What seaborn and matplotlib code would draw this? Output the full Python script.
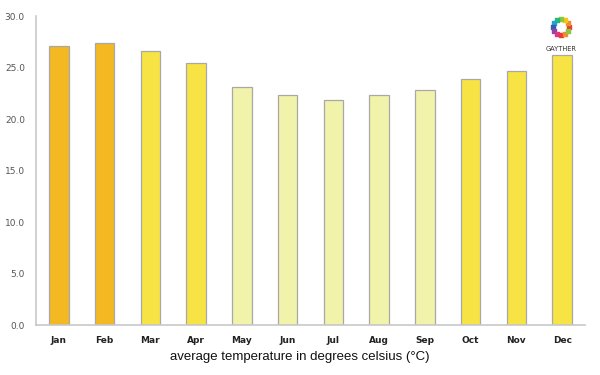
import matplotlib
matplotlib.use("Agg")
import matplotlib.pyplot as plt
import seaborn as sns
import pandas as pd
import numpy as np

months = ["Jan", "Feb", "Mar", "Apr", "May", "Jun", "Jul", "Aug", "Sep", "Oct", "Nov", "Dec"]
temps = [27.1, 27.4, 26.6, 25.4, 23.1, 22.3, 21.8, 22.3, 22.8, 23.9, 24.7, 26.2]
colors = ["#F4B823", "#F4B823", "#F8E344", "#F8E344", "#F2F3AA", "#F2F3AA",
          "#F2F3AA", "#F2F3AA", "#F2F3AA", "#F8E344", "#F8E344", "#F8E344"]
yticks = [0, 5, 10, 15, 20, 25, 30]

sns.set_theme(style="white")
plt.rcParams['font.family'] = ['DejaVu Sans']

df = pd.DataFrame({"month": months, "temp": temps})

fig = plt.figure(figsize=(6, 3.75), dpi=100)
ax = fig.add_axes([0.06, 0.1333, 0.915, 0.824])
sns.barplot(data=df, x="month", y="temp", hue="month", palette=colors, legend=False,
            width=0.43, edgecolor="#A8A8A8", linewidth=0.9, ax=ax, saturation=1)

ax.set_ylim(0, 30)
ax.set_yticks(yticks)
ax.set_yticklabels([f"{v:.1f}" for v in yticks], fontsize=6.5, color="#555555")
ax.tick_params(axis="x", labelsize=6.5, colors="#222222", length=0, pad=8)
ax.tick_params(axis="y", length=0, pad=8)
for lbl in ax.get_xticklabels():
    lbl.set_fontweight("bold")
ax.set_ylabel("")
ax.set_xlabel("average temperature in degrees celsius (°C)", fontsize=9.5, color="#111111",
              family=["Liberation Sans", "DejaVu Sans"])
ax.xaxis.set_label_coords(0.48, -0.085)
for s in ["top", "right"]:
    ax.spines[s].set_visible(False)
for s in ["left", "bottom"]:
    ax.spines[s].set_color("#C8C8C8")
    ax.spines[s].set_linewidth(1.2)

# logo
lax = fig.add_axes([0.91, 0.895, 0.05, 0.065])
lax.set_xlim(-1.5, 1.5)
lax.set_ylim(-1.5, 1.5)
lax.set_aspect("equal")
lax.axis("off")
ring_colors = ["#E83A3A", "#F28C28", "#F5C518", "#8CC63F", "#2BB673", "#1CA3D9", "#3B5BA9", "#8E44AD", "#D9368C", "#E83A3A", "#F28C28", "#8CC63F"]
ang = np.linspace(0, 2 * np.pi, len(ring_colors), endpoint=False)
lax.scatter(np.cos(ang), np.sin(ang), c=ring_colors, s=7, marker="s")
fig.text(0.935, 0.878, "GAYTHER", fontsize=4.8, ha="center", va="top", color="#333333")

fig.savefig("out.png", dpi=100)
